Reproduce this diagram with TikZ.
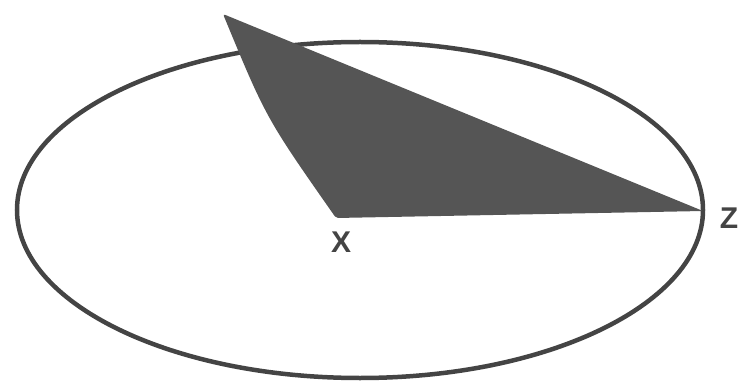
\documentclass[tikz,border=0pt]{standalone}
\usepackage{fontspec}
\newfontfamily\lblfont{Liberation Sans}[UprightFont=*-Bold]
\definecolor{ink}{HTML}{444444}
\definecolor{fillgray}{HTML}{555555}
\begin{document}
\begin{tikzpicture}[x=1pt,y=-1pt,
  outline/.style={draw=ink,line width=4.5pt},
  lbl/.style={text=ink,font=\fontsize{30}{32}\lblfont,inner sep=0pt}]
\useasboundingbox (0,0) rectangle (741,382);
\draw[outline] (360,210) ellipse [x radius=343, y radius=168];
\coordinate (T) at (223,14);
\coordinate (X) at (336,218);
\coordinate (Z) at (703,211);
\fill[fillgray,rounded corners=2pt] (T) .. controls (266,118) .. (X) -- (Z) -- cycle;
\node[lbl] (xl) at (341,242) {X};
\node[lbl] (zl) at (729,218) {Z};
\end{tikzpicture}
\end{document}
